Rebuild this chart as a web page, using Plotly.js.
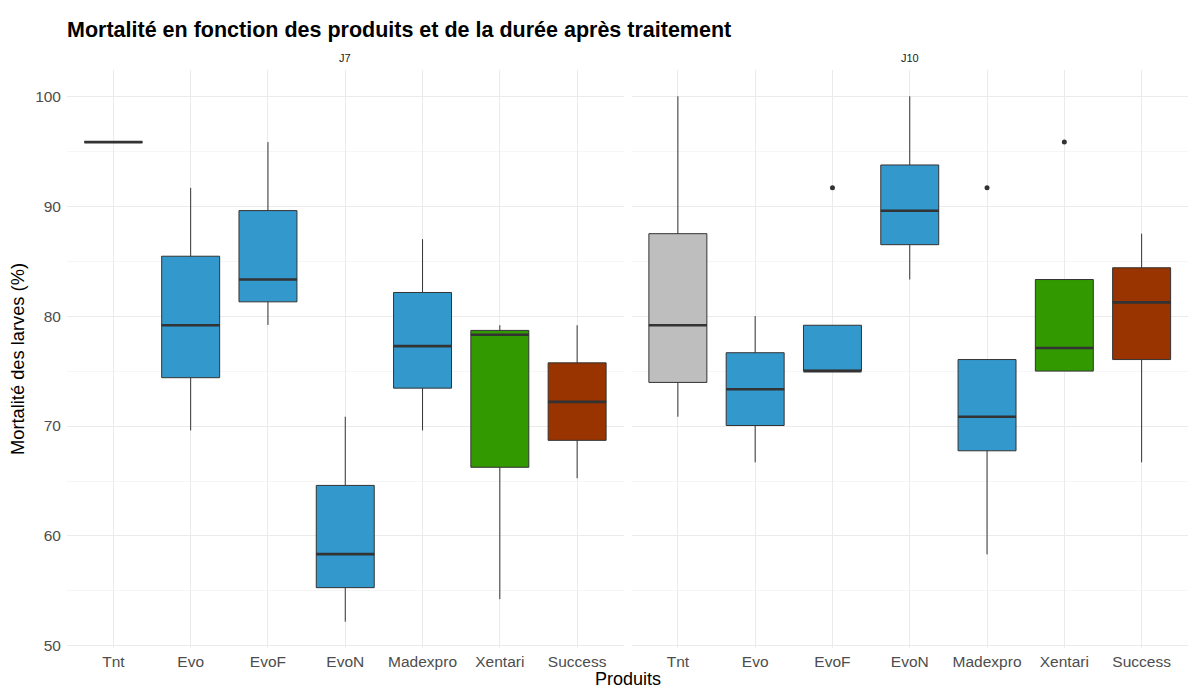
<!DOCTYPE html>
<html>
<head>
<meta charset="utf-8">
<script src="https://cdn.plot.ly/plotly-3.0.1.min.js"></script>
<style>
  html, body { margin: 0; padding: 0; background: #ffffff; }
  #chart { width: 1198px; height: 691px; }
</style>
</head>
<body>
<div id="chart"></div>
<script>
// ---- Data ----
const products = ['Tnt', 'Evo', 'EvoF', 'EvoN', 'Madexpro', 'Xentari', 'Success'];
const panels = ['J7', 'J10'];

const productColors = ['#BEBEBE', '#3399CC', '#3399CC', '#3399CC', '#3399CC', '#339900', '#993300'];

// J7
const j7Lower  = [95.83, 69.6, 79.2, 52.2, 69.6, 54.25, 65.25];
const j7Q1     = [95.83, 74.4, 81.3, 55.3, 73.45, 66.25, 68.7];
const j7Median = [95.83, 79.17, 83.33, 58.35, 77.27, 78.3, 72.2];
const j7Q3     = [95.83, 85.45, 89.6, 64.6, 82.15, 78.7, 75.75];
const j7Upper  = [95.83, 91.67, 95.83, 70.85, 87.0, 79.17, 79.17];
const j7OutX   = [];
const j7OutY   = [];

// J10
const j10Lower  = [70.85, 66.7, 75.0, 83.33, 58.33, 75.0, 66.7];
const j10Q1     = [73.97, 70.05, 75.0, 86.5, 67.75, 75.0, 76.05];
const j10Median = [79.17, 73.35, 75.0, 89.58, 70.85, 77.1, 81.25];
const j10Q3     = [87.5, 76.67, 79.17, 93.75, 76.05, 83.33, 84.4];
const j10Upper  = [100.0, 80.0, 79.17, 100.0, 76.05, 83.33, 87.5];
const j10OutX   = ['EvoF', 'Madexpro', 'Xentari'];
const j10OutY   = [91.67, 91.67, 95.83];

const yTicks = [50, 60, 70, 80, 90, 100];

// ---- Build traces ----
const BOXW = 0.75;
const FONT = 'Liberation Sans, Arial, sans-serif';
const traces = [];

function addPanel(stats, xa, ya) {
  const [lo, q1, med, q3, up, outX, outY] = stats;
  products.forEach((p, i) => {
    traces.push({
      type: 'box',
      x: [i + 1],
      lowerfence: [lo[i]], q1: [q1[i]], median: [med[i]], q3: [q3[i]], upperfence: [up[i]],
      width: BOXW,
      whiskerwidth: 0,
      boxpoints: false,
      fillcolor: productColors[i],
      line: { color: '#333333', width: 1 },
      xaxis: xa, yaxis: ya,
      showlegend: false, hoverinfo: 'skip'
    });
  });
  // thick median segments
  const mx = [], my = [];
  products.forEach((p, i) => {
    mx.push(i + 1 - BOXW / 2, i + 1 + BOXW / 2, null);
    my.push(med[i], med[i], null);
  });
  traces.push({
    type: 'scatter', mode: 'lines', x: mx, y: my,
    line: { color: '#333333', width: 2.6 },
    xaxis: xa, yaxis: ya, showlegend: false, hoverinfo: 'skip'
  });
  // outliers
  if (outX.length) {
    traces.push({
      type: 'scatter', mode: 'markers',
      x: outX.map(n => products.indexOf(n) + 1), y: outY,
      marker: { color: '#333333', size: 5 },
      xaxis: xa, yaxis: ya, showlegend: false, hoverinfo: 'skip'
    });
  }
}

addPanel([j7Lower, j7Q1, j7Median, j7Q3, j7Upper, j7OutX, j7OutY], 'x', 'y');
addPanel([j10Lower, j10Q1, j10Median, j10Q3, j10Upper, j10OutX, j10OutY], 'x2', 'y2');

// ---- Layout ----
const W = 1198, H = 691;
const mL = 67, mR = 10, mT = 70, mB = 42.5;
const plotW = W - mL - mR, plotH = H - mT - mB;
const gap = 8;
const d1 = [0, (plotW - gap) / 2 / plotW];
const d2 = [(plotW + gap) / 2 / plotW, 1];

const xCommon = {
  range: [0.4, 7.6],
  tickmode: 'array',
  tickvals: products.map((p, i) => i + 1),
  ticktext: products,
  showgrid: true, gridcolor: '#EBEBEB', gridwidth: 1,
  zeroline: false, showline: false, ticks: '',
  ticklabelstandoff: 2,
  tickfont: { family: FONT, size: 15.5, color: '#4D4D4D' },
  fixedrange: true
};
const yCommon = {
  range: [49.81, 102.39],
  tickmode: 'array', tickvals: yTicks,
  showgrid: true, gridcolor: '#EBEBEB', gridwidth: 1,
  minor: { dtick: 5, tick0: 0, showgrid: true, gridcolor: '#F4F4F4', gridwidth: 0.8 },
  zeroline: false, showline: false, ticks: '',
  tickfont: { family: FONT, size: 15.5, color: '#4D4D4D' },
  fixedrange: true
};

const layout = {
  width: W, height: H,
  margin: { l: mL, r: mR, t: mT, b: mB, autoexpand: false },
  paper_bgcolor: '#ffffff', plot_bgcolor: '#ffffff',
  showlegend: false,
  font: { family: FONT },
  title: {
    text: 'Mortalité en fonction des produits et de la durée après traitement',
    font: { family: FONT, size: 21.5, color: '#000000', weight: 'bold' },
    xref: 'paper', x: 0, xanchor: 'left',
    yref: 'container', y: 1 - 29 / H, yanchor: 'middle'
  },
  xaxis: Object.assign({}, xCommon, { domain: d1, anchor: 'y' }),
  xaxis2: Object.assign({}, xCommon, { domain: d2, anchor: 'y2' }),
  yaxis: Object.assign({}, yCommon, {
    anchor: 'x', ticklabelstandoff: 5,
    title: { text: 'Mortalité des larves (%)', font: { family: FONT, size: 18.3, color: '#000000' }, standoff: 5 }
  }),
  yaxis2: Object.assign({}, yCommon, { anchor: 'x2', matches: 'y', showticklabels: false }),
  annotations: [
    { text: panels[0], xref: 'paper', yref: 'paper', x: (d1[0] + d1[1]) / 2, y: 1 + 12 / plotH,
      xanchor: 'center', yanchor: 'middle', showarrow: false,
      font: { family: FONT, size: 11, color: '#1A1A1A' } },
    { text: panels[1], xref: 'paper', yref: 'paper', x: (d2[0] + d2[1]) / 2, y: 1 + 12 / plotH,
      xanchor: 'center', yanchor: 'middle', showarrow: false,
      font: { family: FONT, size: 11, color: '#1A1A1A' } },
    { text: 'Produits', xref: 'paper', yref: 'paper', x: 0.5, y: -(680 - (H - mB)) / plotH,
      xanchor: 'center', yanchor: 'middle', showarrow: false,
      font: { family: FONT, size: 18, color: '#000000' } }
  ]
};

Plotly.newPlot('chart', traces, layout, { displayModeBar: false, staticPlot: true });
</script>
</body>
</html>
